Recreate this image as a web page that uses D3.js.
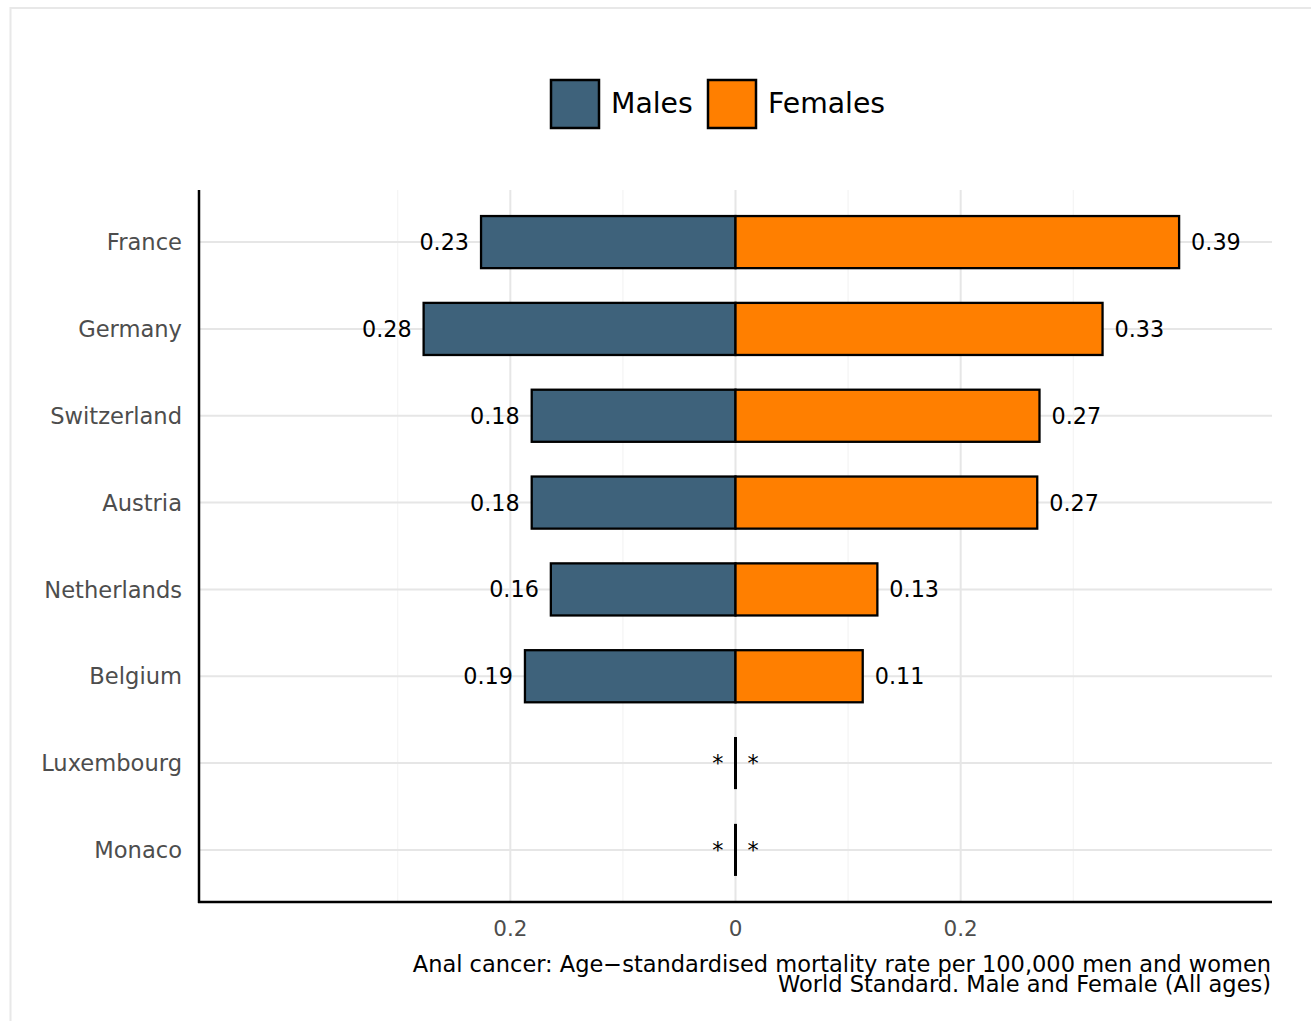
<!DOCTYPE html>
<html><head><meta charset="utf-8">
<script src="https://cdn.jsdelivr.net/npm/d3@7"></script>
<style>
html,body{margin:0;padding:0;background:#fff;}
text{font-family:"DejaVu Sans",sans-serif;}
</style></head>
<body>
<svg id="chart" width="1311" height="1021"></svg>
<script>
const countries = ["France","Germany","Switzerland","Austria","Netherlands","Belgium","Luxembourg","Monaco"];
const males   = [0.226, 0.277, 0.181, 0.181, 0.164, 0.187, null, null];
const females = [0.394, 0.326, 0.270, 0.268, 0.126, 0.113, null, null];
const maleLabels   = ["0.23","0.28","0.18","0.18","0.16","0.19","*","*"];
const femaleLabels = ["0.39","0.33","0.27","0.27","0.13","0.11","*","*"];
const majorTicks = [-0.2, 0, 0.2];
const minorTicks = [-0.3, -0.1, 0.1, 0.3];
const tickLabels = ["0.2","0","0.2"];
const seriesNames = ["Males","Females"];
const seriesColors = ["#3e627b","#ff7f00"];
const axisTitle = ["Anal cancer: Age\u2212standardised mortality rate per 100,000 men and women",
                   "World Standard. Male and Female (All ages)"];

const svg = d3.select("#chart");
const panel = {left:199, right:1272, top:190, bottom:902};

// outer frame
svg.append("rect").attr("x",10.5).attr("y",8).attr("width",1400).attr("height",1100)
  .attr("fill","none").attr("stroke","#e8e8e8").attr("stroke-width",2);

const x = d3.scaleLinear().domain([-0.4765, 0.4765]).range([panel.left, panel.right]);
// ggplot-style: expand 0.6 units each side; bar width 0.6
const step = (panel.bottom - panel.top) / (countries.length - 1 + 1.2);
const yc = d3.scalePoint().domain(countries).range([panel.top + 0.6*step, panel.bottom - 0.6*step]);
const barH = 0.6 * step;

// grid
const g = svg.append("g");
g.selectAll("line.minor").data(minorTicks).join("line")
  .attr("x1",d=>x(d)).attr("x2",d=>x(d)).attr("y1",panel.top).attr("y2",panel.bottom)
  .attr("stroke","#f4f4f4").attr("stroke-width",1.2);
g.selectAll("line.majorv").data(majorTicks).join("line")
  .attr("x1",d=>x(d)).attr("x2",d=>x(d)).attr("y1",panel.top).attr("y2",panel.bottom)
  .attr("stroke","#e6e6e6").attr("stroke-width",2);
g.selectAll("line.majorh").data(countries).join("line")
  .attr("x1",panel.left).attr("x2",panel.right).attr("y1",d=>yc(d)).attr("y2",d=>yc(d))
  .attr("stroke","#e6e6e6").attr("stroke-width",2);

// bars
const rows = countries.map((c,i)=>({c, m:males[i], f:females[i], ml:maleLabels[i], fl:femaleLabels[i]}));
const bars = svg.append("g");
rows.forEach(r=>{
  const cy = yc(r.c);
  if (r.m != null) {
    bars.append("rect").attr("x",x(-r.m)).attr("y",cy-barH/2).attr("width",x(0)-x(-r.m)).attr("height",barH)
      .attr("fill",seriesColors[0]).attr("stroke","#000").attr("stroke-width",2.3);
  }
  if (r.f != null) {
    bars.append("rect").attr("x",x(0)).attr("y",cy-barH/2).attr("width",x(r.f)-x(0)).attr("height",barH)
      .attr("fill",seriesColors[1]).attr("stroke","#000").attr("stroke-width",2.3);
  }
  if (r.m == null && r.f == null) {
    bars.append("line").attr("x1",x(0)).attr("x2",x(0)).attr("y1",cy-barH/2).attr("y2",cy+barH/2)
      .attr("stroke","#000").attr("stroke-width",3);
  }
  const mx = r.m == null ? x(0) : x(-r.m);
  const fx = r.f == null ? x(0) : x(r.f);
  bars.append("text").attr("x",mx-12).attr("y",cy).attr("dy","0.36em").attr("text-anchor","end")
    .attr("font-size",22.3).attr("fill","#000").text(r.ml);
  bars.append("text").attr("x",fx+12).attr("y",cy).attr("dy","0.36em").attr("text-anchor","start")
    .attr("font-size",22.3).attr("fill","#000").text(r.fl);
});

// axes lines
svg.append("line").attr("x1",panel.left).attr("x2",panel.left).attr("y1",panel.top).attr("y2",panel.bottom+1)
  .attr("stroke","#000").attr("stroke-width",2.5);
svg.append("line").attr("x1",panel.left-1).attr("x2",panel.right).attr("y1",panel.bottom).attr("y2",panel.bottom)
  .attr("stroke","#000").attr("stroke-width",2.5);

// y labels
svg.append("g").selectAll("text").data(countries).join("text")
  .attr("x",182).attr("y",d=>yc(d)).attr("dy","0.36em").attr("text-anchor","end")
  .attr("font-size",22.6).attr("fill","#4d4d4d").text(d=>d);

// x tick labels
svg.append("g").selectAll("text").data(majorTicks).join("text")
  .attr("x",d=>x(d)).attr("y",928).attr("dy","0.36em").attr("text-anchor","middle")
  .attr("font-size",21.5).attr("fill","#4d4d4d").text((d,i)=>tickLabels[i]);

// axis title
svg.append("g").selectAll("text").data(axisTitle).join("text")
  .attr("x",1271).attr("y",(d,i)=>964+i*20).attr("dy","0.36em").attr("text-anchor","end")
  .attr("font-size",22.5).attr("fill","#000").text(d=>d);

// legend
const leg = svg.append("g");
const legX = [551, 708];
seriesNames.forEach((n,i)=>{
  leg.append("rect").attr("x",legX[i]).attr("y",80).attr("width",48).attr("height",48)
    .attr("fill",seriesColors[i]).attr("stroke","#000").attr("stroke-width",2.5);
  leg.append("text").attr("x",legX[i]+60).attr("y",103).attr("dy","0.36em")
    .attr("font-size",28.3).attr("fill","#000").text(n);
});
</script>
</body></html>
